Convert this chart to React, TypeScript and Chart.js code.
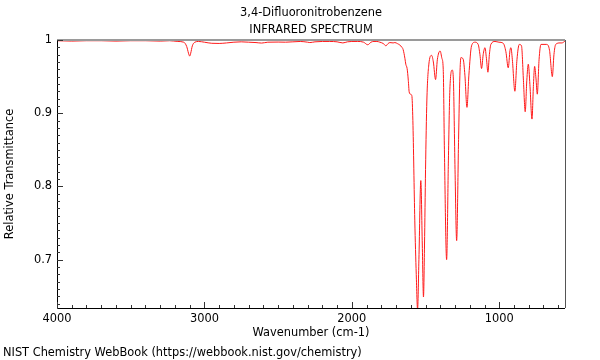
import React, { useEffect, useRef } from "react";
import { Chart, registerables } from "chart.js";

Chart.register(...registerables);

const WAVENUMBERS = [
  4000, 3900, 3800, 3700, 3600, 3500, 3400, 3300, 3236, 3180, 3140, 3120, 3108, 3100, 3093, 3082, 3065, 3040,
  3000, 2950, 2900, 2850, 2800, 2750, 2700, 2650, 2612, 2570, 2500, 2450, 2400, 2350, 2300, 2285, 2250, 2200,
  2150, 2100, 2061, 2030, 2000, 1960, 1920, 1892, 1870, 1850, 1830, 1810, 1785, 1769, 1755, 1742, 1720, 1708,
  1690, 1674, 1660, 1652, 1640, 1634, 1625, 1617, 1611, 1602, 1593, 1586, 1573, 1563, 1554, 1545, 1532, 1522,
  1514, 1507, 1500, 1491, 1478, 1459, 1447, 1432, 1420, 1401, 1389, 1380, 1372, 1357, 1345, 1335, 1319, 1311,
  1300, 1289, 1276, 1267, 1260, 1245, 1233, 1219, 1206, 1188, 1165, 1143, 1131, 1120, 1109, 1097, 1087, 1077,
  1067, 1057, 1029, 1002, 973, 955, 939, 927, 921, 911, 894, 880, 864, 849, 836, 824, 813, 803, 792, 778, 768,
  760, 751, 742, 730, 717, 678, 659, 640, 629, 617, 588, 575, 554,
];

const TRANSMITTANCE = [
  0.999, 0.9985, 0.999, 0.999, 0.9985, 0.999, 0.999, 0.9985, 0.999, 0.998, 0.997, 0.991, 0.982, 0.978, 0.982, 0.992, 0.997, 0.998,
  0.997, 0.9955, 0.9953, 0.996, 0.997, 0.9975, 0.997, 0.9965, 0.9958, 0.997, 0.9972, 0.997, 0.9975, 0.998, 0.997, 0.9965, 0.9975, 0.998,
  0.998, 0.9975, 0.996, 0.9975, 0.998, 0.998, 0.997, 0.9935, 0.997, 0.998, 0.998, 0.997, 0.995, 0.992, 0.995, 0.9965, 0.996, 0.9965,
  0.995, 0.993, 0.99, 0.987, 0.975, 0.967, 0.961, 0.945, 0.929, 0.926, 0.924, 0.89, 0.754, 0.68, 0.632, 0.7, 0.808, 0.72,
  0.649, 0.72, 0.823, 0.918, 0.966, 0.979, 0.97, 0.946, 0.973, 0.985, 0.975, 0.96, 0.85, 0.7, 0.836, 0.932, 0.959, 0.945,
  0.823, 0.726, 0.864, 0.952, 0.976, 0.974, 0.952, 0.908, 0.952, 0.992, 0.997, 0.994, 0.98, 0.961, 0.98, 0.9895, 0.975, 0.956,
  0.98, 0.994, 0.998, 0.997, 0.9955, 0.984, 0.962, 0.986, 0.9895, 0.973, 0.93, 0.973, 0.994, 0.992, 0.945, 0.902, 0.945, 0.967, 0.939, 0.892, 0.939,
  0.964, 0.948, 0.926, 0.973, 0.994, 0.994, 0.986, 0.95, 0.98, 0.994, 0.996, 0.996, 0.9985,
];

const X_TICKS = [4000, 3000, 2000, 1000];
const Y_TICKS = [0.7, 0.8, 0.9, 1];
const X_MINOR_STEP = 100;
const Y_MINOR_STEP = 0.01;
const X_MIN = 554;
const X_MAX = 4000;
const Y_MIN = 0.634;
const Y_MAX = 1;

const TITLE_LINES = ["3,4-Difluoronitrobenzene", "INFRARED SPECTRUM"];
const X_TITLE = "Wavenumber (cm-1)";
const Y_TITLE = "Relative Transmittance";
const FOOTER = "NIST Chemistry WebBook (https://webbook.nist.gov/chemistry)";

const FONT_FAMILY = '"DejaVu Sans", sans-serif';
const FONT_SIZE = 11.4;

const framePlugin = {
  id: "frameAndTicks",
  afterDraw(chart: any) {
    const { ctx, chartArea } = chart;
    const xs = chart.scales.x;
    const ys = chart.scales.y;
    const { left, right, top, bottom } = chartArea;
    ctx.save();
    // frame
    ctx.lineWidth = 2;
    ctx.strokeStyle = "#9a9a9a";
    ctx.beginPath();
    ctx.moveTo(left, top);
    ctx.lineTo(right, top);
    ctx.stroke();
    ctx.lineWidth = 1;
    ctx.strokeStyle = "#555";
    ctx.beginPath();
    ctx.moveTo(Math.round(right) + 0.5, top);
    ctx.lineTo(Math.round(right) + 0.5, bottom);
    ctx.stroke();
    ctx.strokeStyle = "#000";
    ctx.beginPath();
    ctx.moveTo(Math.round(left) + 0.5, top);
    ctx.lineTo(Math.round(left) + 0.5, Math.round(bottom) + 0.5);
    ctx.lineTo(right, Math.round(bottom) + 0.5);
    ctx.stroke();
    // x ticks (inward)
    ctx.strokeStyle = "#333";
    ctx.beginPath();
    for (let v = Math.ceil(X_MIN / X_MINOR_STEP) * X_MINOR_STEP; v <= X_MAX; v += X_MINOR_STEP) {
      const px = Math.round(xs.getPixelForValue(v)) + 0.5;
      const len = v % 1000 === 0 ? 6 : 3;
      ctx.moveTo(px, Math.round(bottom));
      ctx.lineTo(px, Math.round(bottom) - len);
    }
    ctx.stroke();
    // y ticks (inward)
    ctx.beginPath();
    const n0 = Math.ceil(Y_MIN / Y_MINOR_STEP - 1e-6);
    const n1 = Math.floor(Y_MAX / Y_MINOR_STEP + 1e-6);
    for (let n = n0; n <= n1; n++) {
      const v = n * Y_MINOR_STEP;
      const py = Math.round(ys.getPixelForValue(v)) + 0.5;
      const len = n % 10 === 0 ? 6 : 3;
      ctx.moveTo(Math.round(left), py);
      ctx.lineTo(Math.round(left) + len, py);
    }
    ctx.stroke();
    // titles
    ctx.fillStyle = "#000";
    ctx.font = `${FONT_SIZE}px ${FONT_FAMILY}`;
    ctx.textAlign = "center";
    ctx.textBaseline = "middle";
    const cx = (left + right) / 2;
    ctx.fillText(TITLE_LINES[0], cx, 13);
    ctx.fillText(TITLE_LINES[1], cx, 30);
    ctx.textAlign = "left";
    ctx.fillText(FOOTER, 3, 353);
    ctx.restore();
  },
};

export default function App() {
  const canvasRef = useRef<HTMLCanvasElement | null>(null);

  useEffect(() => {
    const canvas = canvasRef.current;
    if (!canvas) return;
    const points = WAVENUMBERS.map((w, i) => ({ x: w, y: TRANSMITTANCE[i] }));
    const chart = new Chart(canvas, {
      type: "line",
      data: {
        datasets: [
          {
            data: points,
            borderColor: "#ff1a1a",
            borderWidth: 1,
            pointRadius: 0,
            fill: false,
            cubicInterpolationMode: "monotone",
          },
        ],
      },
      plugins: [framePlugin],
      options: {
        animation: false,
        responsive: false,
        maintainAspectRatio: false,
        events: [],
        layout: { padding: { top: 40, right: 35, bottom: 0, left: 0 } },
        plugins: {
          legend: { display: false },
          tooltip: { enabled: false },
          title: { display: false },
        },
        scales: {
          x: {
            type: "linear",
            reverse: true,
            min: X_MIN,
            max: X_MAX,
            afterBuildTicks: (s: any) => {
              s.ticks = X_TICKS.map((v) => ({ value: v }));
            },
            afterFit: (s: any) => {
              s.height = 52;
            },
            grid: { display: false, drawTicks: false },
            border: { display: false },
            ticks: {
              autoSkip: false,
              maxRotation: 0,
              padding: 4,
              color: "#000",
              font: { family: FONT_FAMILY, size: FONT_SIZE },
              callback: (v: any) => String(v),
            },
            title: {
              display: true,
              text: X_TITLE,
              color: "#000",
              font: { family: FONT_FAMILY, size: FONT_SIZE },
              padding: { top: 0, bottom: 20 },
            },
          },
          y: {
            type: "linear",
            min: Y_MIN,
            max: Y_MAX,
            afterBuildTicks: (s: any) => {
              s.ticks = Y_TICKS.map((v) => ({ value: v }));
            },
            afterFit: (s: any) => {
              s.width = 57;
            },
            grid: { display: false, drawTicks: false },
            border: { display: false },
            ticks: {
              padding: 5,
              color: "#000",
              font: { family: FONT_FAMILY, size: FONT_SIZE },
              callback: (v: any) => String(Math.round(v * 10) / 10),
            },
            title: {
              display: true,
              text: Y_TITLE,
              color: "#000",
              font: { family: FONT_FAMILY, size: FONT_SIZE },
              padding: { top: 3, bottom: 0 },
            },
          },
        },
      },
    });
    return () => chart.destroy();
  }, []);

  return (
    <div style={{ position: "fixed", left: 0, top: 0, width: 600, height: 360, background: "#fff" }}>
      <canvas ref={canvasRef} width={600} height={360} style={{ width: 600, height: 360 }} />
    </div>
  );
}
